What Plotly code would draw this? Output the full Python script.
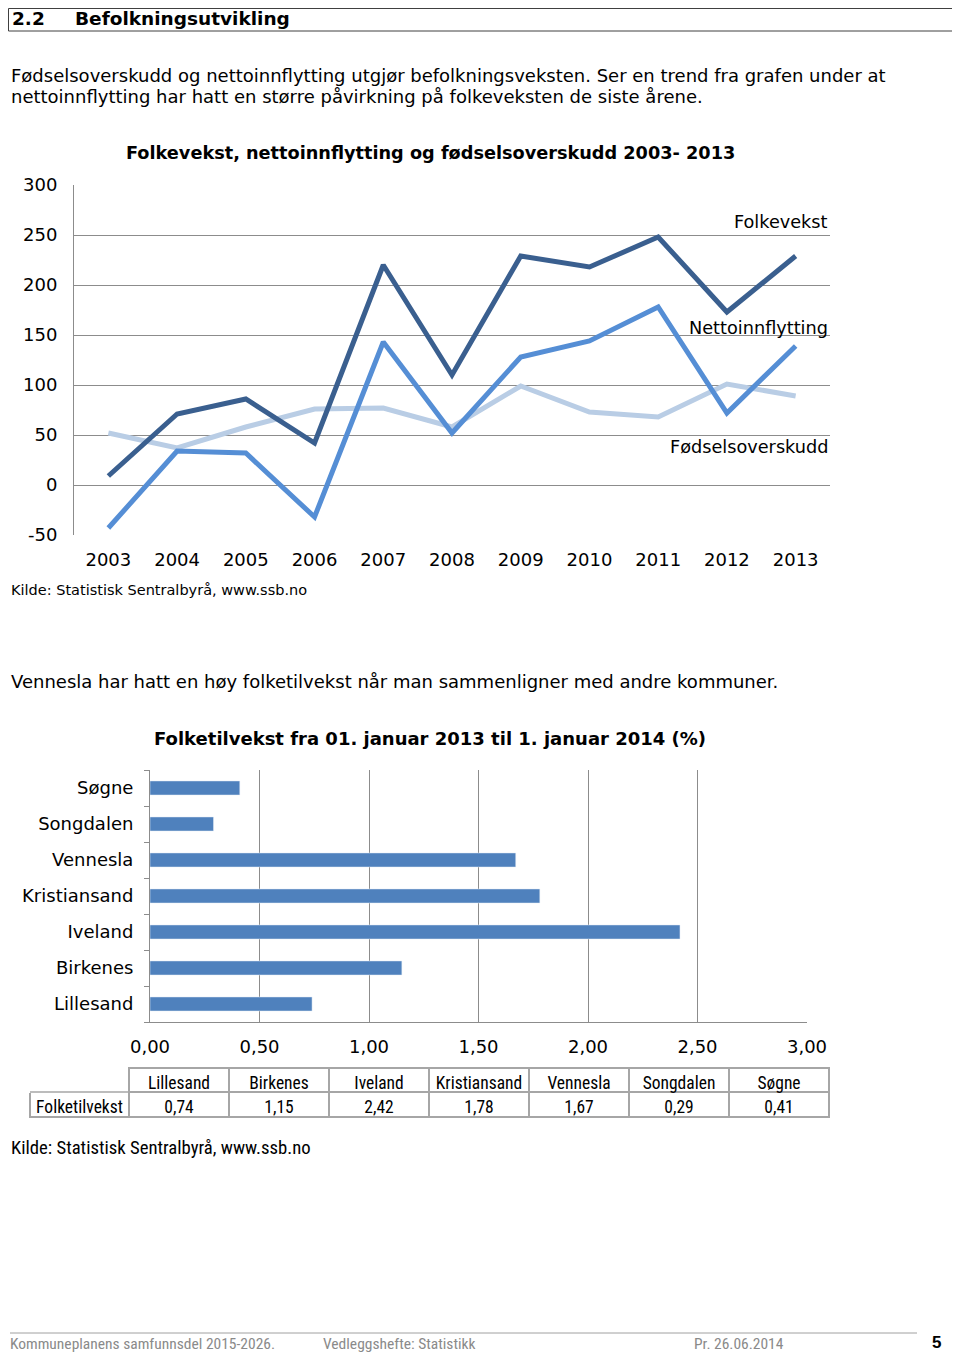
import plotly.graph_objects as go

# line chart data
years = list(range(2003, 2014))
folkevekst = [9, 71, 86, 42, 220, 110, 229, 218, 248, 173, 229]
nettoinnflytting = [-43, 34, 32, -32, 143, 52, 128, 144, 178, 72, 139]
fodselsoverskudd = [52, 37, 58, 76, 77, 58, 99, 73, 68, 101, 89]
y_ticks = [-50, 0, 50, 100, 150, 200, 250, 300]

# bar chart / table data
kommuner = ["Lillesand", "Birkenes", "Iveland", "Kristiansand", "Vennesla", "Songdalen", "Søgne"]
folketilvekst = [0.74, 1.15, 2.42, 1.78, 1.67, 0.29, 0.41]

# the page body has an 8px margin, so the figure is a bit smaller than the window
OFF = 8
W, H = 960 - OFF, 1354 - OFF
GRID = "#8c8c8c"
FONT = "DejaVu Sans"
NARROW = "Liberation Sans Narrow, Roboto Condensed, Liberation Sans"


def px(x):
    return (x - OFF) / W


def py(y):
    return 1 - (y - OFF) / H


def fmt(v):
    return f"{v:.2f}".replace(".", ",")


fig = go.Figure()

# line chart
fig.add_trace(go.Scatter(x=years, y=fodselsoverskudd, mode="lines", name="Fødselsoverskudd",
                         line=dict(color="#b9cde5", width=5), xaxis="x", yaxis="y"))
fig.add_trace(go.Scatter(x=years, y=nettoinnflytting, mode="lines", name="Nettoinnflytting",
                         line=dict(color="#558ed5", width=5), xaxis="x", yaxis="y"))
fig.add_trace(go.Scatter(x=years, y=folkevekst, mode="lines", name="Folkevekst",
                         line=dict(color="#3a5f8f", width=5), xaxis="x", yaxis="y"))

# bar chart
fig.add_trace(go.Bar(x=folketilvekst, y=kommuner, orientation="h", marker_color="#4f81bd",
                     xaxis="x2", yaxis="y2"))

# table
fig.add_trace(go.Table(
    domain=dict(x=[px(30), px(829)], y=[py(1125), py(1068)]),
    columnwidth=[99] + [100] * len(kommuner),
    header=dict(values=[""] + kommuner, height=24, fill_color="white",
                line=dict(color=["white"] + ["#a6a6a6"] * len(kommuner), width=1.5),
                font=dict(family=NARROW, size=17.5, color="black"), align="center"),
    cells=dict(values=[["Folketilvekst"]] + [[fmt(v)] for v in folketilvekst], height=25,
               fill_color="white", line=dict(color="#a6a6a6", width=1.5),
               font=dict(family=NARROW, size=17.5, color="black"), align="center"),
))

FOOT = dict(family=NARROW, size=15.5, color="#8a8a8a")
annotations = [
    dict(x=px(10), y=py(19), text="<b>2.2</b>", xanchor="left", font=dict(size=18.5)),
    dict(x=px(73), y=py(19), text="<b>Befolkningsutvikling</b>", xanchor="left", font=dict(size=18.5)),
    dict(x=px(9), y=py(75), xanchor="left", font=dict(size=18),
         text="Fødselsoverskudd og nettoinnflytting utgjør befolkningsveksten. Ser en trend fra grafen under at"),
    dict(x=px(9), y=py(97), xanchor="left", font=dict(size=18),
         text="nettoinnflytting har hatt en større påvirkning på folkeveksten de siste årene."),
    dict(x=px(430), y=py(153), font=dict(size=17.7),
         text="<b>Folkevekst, nettoinnflytting og fødselsoverskudd 2003- 2013</b>"),
    dict(x=px(9), y=py(590), xanchor="left", font=dict(size=14.5),
         text="Kilde: Statistisk Sentralbyrå, www.ssb.no"),
    dict(x=px(9), y=py(681), xanchor="left", font=dict(size=18),
         text="Vennesla har hatt en høy folketilvekst når man sammenligner med andre kommuner."),
    dict(x=px(430), y=py(738), font=dict(size=18),
         text="<b>Folketilvekst fra 01. januar 2013 til 1. januar 2014 (%)</b>"),
    dict(x=px(9), y=py(1148), xanchor="left", font=dict(family=NARROW, size=18.7),
         text="Kilde: Statistisk Sentralbyrå, www.ssb.no"),
    dict(x=px(8), y=py(1344), xanchor="left", font=FOOT,
         text="Kommuneplanens samfunnsdel 2015-2026."),
    dict(x=px(321), y=py(1344), xanchor="left", font=FOOT,
         text="Vedleggshefte: Statistikk"),
    dict(x=px(692), y=py(1344), xanchor="left", font=FOOT,
         text="Pr. 26.06.2014"),
    dict(x=px(943), y=py(1342), font=dict(family="Liberation Sans", size=17),
         text="<b>5</b>"),
]
for a in annotations:
    a.setdefault("xref", "paper")
    a.setdefault("yref", "paper")
    a.setdefault("yanchor", "middle")
    a["showarrow"] = False

# series labels inside the line chart
for name, yv in [("Folkevekst", 263), ("Nettoinnflytting", 157), ("Fødselsoverskudd", 38)]:
    annotations.append(dict(x=2013.5, y=yv, xref="x", yref="y", text=name, xanchor="right",
                            yanchor="middle", showarrow=False, font=dict(size=17.7)))

shapes = [
    # header box
    dict(type="rect", xref="paper", yref="paper", x0=px(8.5), x1=px(958), y0=py(31), y1=py(8.5),
         line=dict(color="#404040", width=1)),
    # top edge of the "Folketilvekst" cell
    dict(type="line", xref="paper", yref="paper", x0=px(30), x1=px(129), y0=py(1092), y1=py(1092),
         line=dict(color="#a6a6a6", width=1.5)),
    # footer rule
    dict(type="line", xref="paper", yref="paper", x0=px(10), x1=px(917), y0=py(1333), y1=py(1333),
         line=dict(color="#a0a0a0", width=1)),
]

fig.update_layout(
    width=W, height=H,
    margin=dict(l=0, r=0, t=0, b=0, pad=0, autoexpand=False),
    paper_bgcolor="white", plot_bgcolor="white",
    font=dict(family=FONT, size=18, color="black"),
    showlegend=False,
    separators=", ",
    bargap=0.61,
    annotations=annotations,
    shapes=shapes,
    xaxis=dict(domain=[px(74), px(830)], range=[2002.5, 2013.5], tickvals=years,
               showgrid=False, showline=False, zeroline=False, ticks="", automargin=False,
               ticklabelstandoff=12, anchor="y"),
    yaxis=dict(domain=[py(535), py(185)], range=[-50, 300], tickvals=y_ticks,
               ticktext=[str(v) for v in y_ticks], automargin=False,
               showgrid=True, gridcolor=GRID, gridwidth=1, showline=True, linecolor=GRID,
               zeroline=False, ticks="", ticklabelstandoff=12, anchor="x"),
    xaxis2=dict(domain=[px(150), px(807)], range=[0, 3], dtick=0.5, tickformat=".2f",
                showgrid=True, gridcolor=GRID, showline=True, linecolor=GRID, zeroline=False,
                ticks="", ticklabelstandoff=8, automargin=False, anchor="y2"),
    yaxis2=dict(domain=[py(1022), py(770)], type="category", showgrid=False, showline=True,
                linecolor=GRID, ticks="outside", tickson="boundaries", ticklen=5, tickcolor=GRID,
                ticklabelstandoff=12, automargin=False, anchor="x2"),
)

fig.write_html("out.html")
